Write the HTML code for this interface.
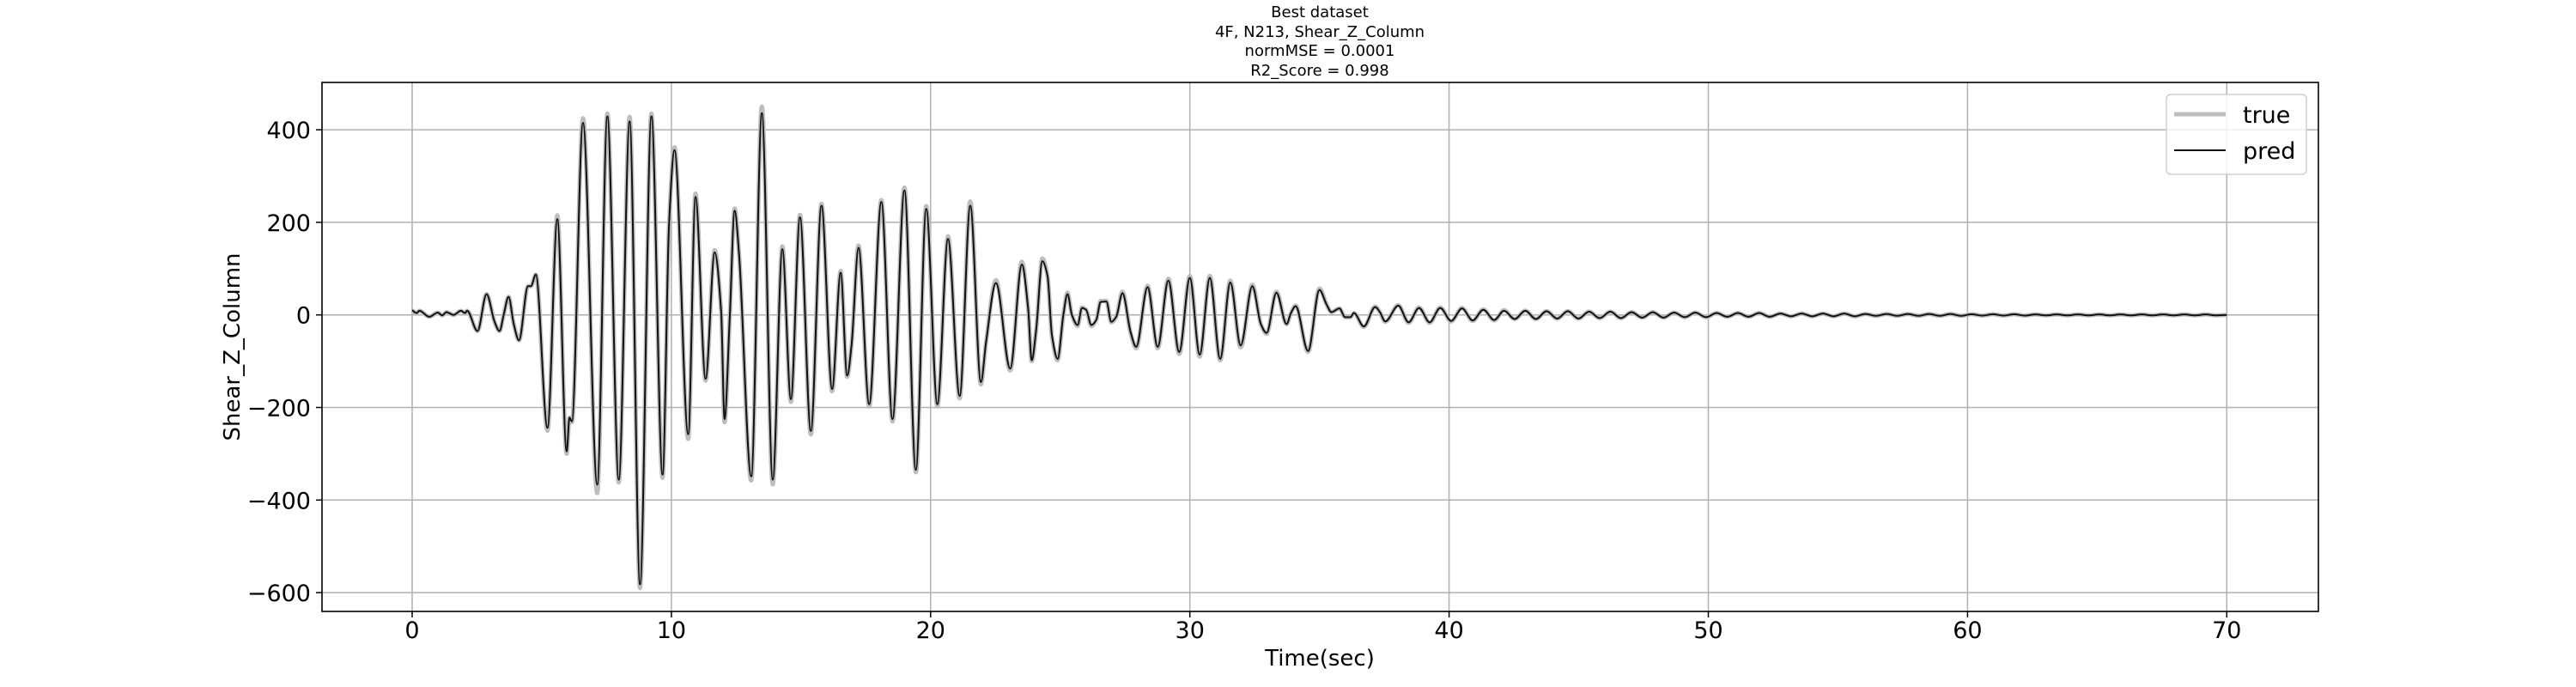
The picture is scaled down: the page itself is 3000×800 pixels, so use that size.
<!DOCTYPE html>
<html><head><meta charset="utf-8"><style>
html,body{margin:0;padding:0;background:#fff;}
svg{display:block;font-family:"DejaVu Sans","Liberation Sans",sans-serif;}
</style></head><body>
<svg id="chart" width="3000" height="800" viewBox="0 0 3000 800" xmlns="http://www.w3.org/2000/svg">
<g id="titles" font-size="18" text-anchor="middle" fill="#000">
<text x="1537" y="20">Best dataset</text>
<text x="1537" y="43">4F, N213, Shear_Z_Column</text>
<text x="1537" y="65">normMSE = 0.0001</text>
<text x="1537" y="88">R2_Score = 0.998</text>
</g>
<g id="grid"></g>
<g id="series"></g>
<rect x="375" y="96" width="2325" height="616" fill="none" stroke="#000" stroke-width="1.6"/>
<g id="ticks"></g>
<text x="1537" y="775" font-size="26" text-anchor="middle">Time(sec)</text>
<text transform="translate(279,404) rotate(-90)" font-size="26" text-anchor="middle">Shear_Z_Column</text>
<g>
<rect x="2523" y="110" width="163" height="93" rx="5" fill="#fff" fill-opacity="0.8" stroke="#d0d0d0" stroke-width="1.5"/>
<line x1="2532" y1="133" x2="2592" y2="133" stroke="#bdbdbd" stroke-width="5"/>
<text x="2612" y="143" font-size="27">true</text>
<line x1="2532" y1="175" x2="2592" y2="175" stroke="#111" stroke-width="2"/>
<text x="2612" y="185" font-size="27">pred</text>
</g>
</svg>
<script>
const xTicks = [0,10,20,30,40,50,60,70];
const yTicks = [400,200,0,-200,-400,-600];
const times = [0,0.17,0.28,0.66,0.99,1.16,1.32,1.6,1.88,2.04,2.12,2.52,2.87,3.18,3.37,3.53,3.72,3.92,4.12,4.47,4.58,4.77,5.22,5.6,5.96,6.07,6.16,6.59,7.14,7.53,7.97,8.39,8.79,9.23,9.66,9.91,10.12,10.65,10.93,11.32,11.67,11.92,12.05,12.25,12.44,12.61,13.08,13.49,13.91,14.28,14.61,14.96,15.38,15.79,16.2,16.53,16.78,16.95,17.22,17.63,18.1,18.53,18.99,19.43,19.83,20.26,20.67,21.12,21.53,21.94,22.14,22.52,23.07,23.52,23.76,23.9,24.07,24.31,24.51,24.68,24.9,25.12,25.28,25.45,25.67,25.84,26.0,26.2,26.39,26.56,26.78,26.97,27.16,27.4,27.71,27.93,28.37,28.76,29.17,29.59,30.0,30.38,30.77,31.17,31.56,31.96,32.41,32.74,32.96,33.34,33.73,33.9,34.08,34.56,35.0,35.27,35.46,35.77,35.99,36.19,36.33,36.71,37.15,37.32,37.54,38.04,38.44,38.84,39.25,39.66,40.08,40.5,40.91,41.32,41.74,42.12,42.53,42.94,43.35,43.76,44.17,44.58,44.99,45.4,45.81,46.22,46.63,47.04,47.45,47.86,48.27,48.68,49.09,49.5,49.91,50.32,50.73,51.14,51.55,51.96,52.37,52.78,53.19,53.6,54.01,54.42,54.83,55.24,55.65,56.06,56.47,56.88,57.29,57.7,58.11,58.52,58.93,59.34,59.75,60.16,60.57,60.98,61.39,61.8,62.21,62.62,63.03,63.44,63.85,64.26,64.67,65.08,65.49,65.9,66.31,66.72,67.13,67.54,67.95,68.36,68.77,69.18,69.59,70.0];
const trueValues = [10,4,9,-4,5,-1,6,0,9,4,9,-35,45,-15,-35,0,39,-20,-55,62,62,87,-250,215,-300,-222,-232,425,-385,435,-362,428,-590,435,-352,196,362,-268,262,-142,140,7,-232,-7,230,131,-358,450,-366,148,-188,216,-258,240,-165,95,-134,-65,150,-198,248,-230,275,-340,235,-198,170,-180,245,-150,-58,75,-120,115,15,-100,-33,122,84,-46,-98,0,48,0,-24,16,11,-24,-11,30,30,-16,-4,50,-38,-72,63,-72,78,-84,84,-90,84,-98,74,-70,65,-20,-41,50,-20,4,20,-80,57,23,6,14,-5,-5,4,-26,18,7,-15,21,-17,16,-17,16,-14,15,-13,12,-12,10,-9,9,-9,8,-8,8,-8,7,-7,7,-7,6,-6,6,-6,5,-5,5,-5,4,-4,4,-4,4,-4,3,-3,3,-3,3,-3,3,-3,2,-2,2,-2,2,-2,2,-2,2,-2,1.5,-1.5,1.5,-1.5,1.5,-1.5,1,-1,1,-1,1,-1,1,-1,1,-1,1,-1,1,-1,1,-1,1,-1,0];
const predValues = [10,4,9,-4,5,-1,6,0,9,4,9,-35,45,-15,-35,0,39,-20,-55,62,62,87,-244,207,-295,-222,-230,415,-367,429,-356,418,-582,429,-345,196,356,-258,255,-138,135,7,-225,-7,225,131,-349,436,-356,142,-182,211,-251,236,-160,91,-131,-65,145,-193,244,-225,269,-335,229,-193,164,-175,236,-145,-58,69,-116,109,15,-98,-33,116,84,-44,-95,0,45,0,-22,15,11,-22,-11,28,29,-15,-4,47,-36,-69,60,-69,74,-80,80,-86,80,-95,70,-66,62,-20,-39,48,-20,4,19,-78,54,23,6,14,-5,-5,4,-25,17,7,-14,20,-16,15,-16,15,-13,14,-12,11,-11,9,-9,9,-9,8,-8,8,-8,7,-7,7,-7,6,-6,6,-6,5,-5,5,-5,4,-4,4,-4,4,-4,3,-3,3,-3,3,-3,3,-3,2,-2,2,-2,2,-2,2,-2,2,-2,1.5,-1.5,1.5,-1.5,1.5,-1.5,1,-1,1,-1,1,-1,1,-1,1,-1,1,-1,1,-1,1,-1,1,-1,0];

const NS = 'http://www.w3.org/2000/svg';
const L = 375, R = 2700, T = 96, B = 712;
function xScale(t){ return 480 + 30.19 * t; }
function yScale(v){ return 366.7 - 0.539 * v; }
function mk(tag, attrs, parent){
  const e = document.createElementNS(NS, tag);
  for (const k in attrs) e.setAttribute(k, attrs[k]);
  parent.appendChild(e);
  return e;
}
const grid = document.getElementById('grid');
const ticks = document.getElementById('ticks');
xTicks.forEach(function(t){
  const x = xScale(t);
  const g = mk('line', {x1:x, y1:T, x2:x, y2:B, stroke:'#b0b0b0', 'stroke-width':1.5}, grid);
  
  
  const tk = mk('line', {x1:x, y1:B, x2:x, y2:B+7, stroke:'#000', 'stroke-width':1.5}, ticks);
  
  
  const lb = mk('text', {x:x, y:743, 'font-size':27, 'text-anchor':'middle'}, ticks);
  lb.textContent = String(t);
  
  
});
yTicks.forEach(function(v){
  const y = yScale(v);
  const g = mk('line', {x1:L, y1:y, x2:R, y2:y, stroke:'#b0b0b0', 'stroke-width':1.5}, grid);
  
  
  const tk = mk('line', {x1:L-7, y1:y, x2:L, y2:y, stroke:'#000', 'stroke-width':1.5}, ticks);
  
  
  const lb = mk('text', {x:L-13, y:y+10, 'font-size':27, 'text-anchor':'end'}, ticks);
  lb.textContent = v < 0 ? '\u2212' + Math.abs(v) : String(v);
  
  
});
function monoPath(xs, ys){
  const n = xs.length, px = xs.map(xScale), py = ys.map(yScale);
  const d = [], m = [];
  for (let i = 0; i < n-1; i++) d.push((py[i+1]-py[i])/(px[i+1]-px[i]));
  for (let i = 0; i < n; i++){
    if (i === 0) m.push(d[0]); else if (i === n-1) m.push(d[n-2]);
    else if (d[i-1]*d[i] <= 0) m.push(0);
    else { const a = d[i-1], b = d[i]; m.push(2/(1/a+1/b)); }
  }
  let s = 'M' + px[0].toFixed(2) + ',' + py[0].toFixed(2);
  for (let i = 0; i < n-1; i++){
    const h = (px[i+1]-px[i])/3;
    s += 'C' + (px[i]+h).toFixed(2) + ',' + (py[i]+m[i]*h).toFixed(2) + ' ' +
         (px[i+1]-h).toFixed(2) + ',' + (py[i+1]-m[i+1]*h).toFixed(2) + ' ' +
         px[i+1].toFixed(2) + ',' + py[i+1].toFixed(2);
  }
  return s;
}
const series = document.getElementById('series');
const tp = mk('path', {d:monoPath(times, trueValues), fill:'none', stroke:'#bdbdbd', 'stroke-width':5, 'stroke-linejoin':'round'}, series);


const pp = mk('path', {d:monoPath(times, predValues), fill:'none', stroke:'#111', 'stroke-width':2, 'stroke-linejoin':'round'}, series);


</script>
</body></html>
